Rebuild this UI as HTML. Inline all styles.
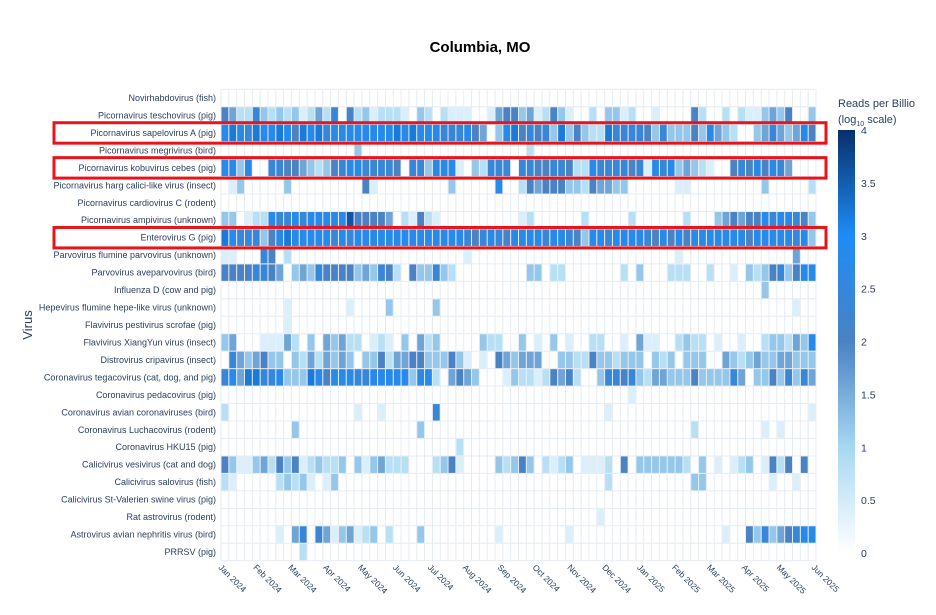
<!DOCTYPE html>
<html><head><meta charset="utf-8"><style>
body{margin:0;background:#fff;font-family:"Liberation Sans",Arial,sans-serif;}
svg text{font-family:"Liberation Sans",Arial,sans-serif;fill:#2a3f5f;}
</style></head><body>
<svg id="chart" width="936" height="610" viewBox="0 0 936 610" xmlns="http://www.w3.org/2000/svg">
<defs><linearGradient id="cbg" x1="0" y1="1" x2="0" y2="0">
<stop offset="0" stop-color="#ffffff"/><stop offset="0.25" stop-color="#a6d8f2"/><stop offset="0.5" stop-color="#4a82c4"/><stop offset="0.75" stop-color="#1e8cf5"/><stop offset="1" stop-color="#08306b"/></linearGradient></defs>
<text x="480" y="52" text-anchor="middle" font-size="15" font-weight="bold" style="fill:#000">Columbia, MO</text>
<text transform="translate(32,325) rotate(-90)" text-anchor="middle" font-size="13">Virus</text>
<g id="grid"></g>
<g id="cells"></g>
<g id="ylab"></g>
<g id="xlab"></g>
<g id="boxes"></g>
<g>
<text x="838" y="107" font-size="11">Reads per Billio</text>
<text x="838" y="123" font-size="11">(log<tspan font-size="7" dy="3">10</tspan><tspan dy="-3"> scale)</tspan></text>
<rect x="838" y="130" width="17" height="423" fill="url(#cbg)"/>
<g id="cbticks"></g>
</g>
</svg>
<script>
const viruses=["Novirhabdovirus (fish)","Picornavirus teschovirus (pig)","Picornavirus sapelovirus A (pig)","Picornavirus megrivirus (bird)","Picornavirus kobuvirus cebes (pig)","Picornavirus harg calici-like virus (insect)","Picornavirus cardiovirus C (rodent)","Picornavirus ampivirus (unknown)","Enterovirus G (pig)","Parvovirus flumine parvovirus (unknown)","Parvovirus aveparvovirus (bird)","Influenza D (cow and pig)","Hepevirus flumine hepe-like virus (unknown)","Flavivirus pestivirus scrofae (pig)","Flavivirus XiangYun virus (insect)","Distrovirus cripavirus (insect)","Coronavirus tegacovirus (cat, dog, and pig)","Coronavirus pedacovirus (pig)","Coronavirus avian coronaviruses (bird)","Coronavirus Luchacovirus (rodent)","Coronavirus HKU15 (pig)","Calicivirus vesivirus (cat and dog)","Calicivirus salovirus (fish)","Calicivirus St-Valerien swine virus (pig)","Rat astrovirus (rodent)","Astrovirus avian nephritis virus (bird)","PRRSV (pig)"];
const monthLabels=["Jan 2024","Feb 2024","Mar 2024","Apr 2024","May 2024","Jun 2024","Jul 2024","Aug 2024","Sep 2024","Oct 2024","Nov 2024","Dec 2024","Jan 2025","Feb 2025","Mar 2025","Apr 2025","May 2025","Jun 2025"];
const cbTicks=[0,0.5,1,1.5,2,2.5,3,3.5,4];
const highlighted=[2,4,8];
// weekly values encoded per digit: 0 = no data, d -> d*0.4 log10 reads
const rowCodes=[
"0",
"54226323231242605231222103202111001455"+"34125310020331200100005200202113435003",
"78768778758786777777778787776667540378"+"56563835322866665363335374320034643475",
"00000000000000000300000000000000000000"+"02000000000000000000000000000000000000",
"77370066554323567766665066377710326660"+"66556652276666561767343210056575764000",
"01300000300000000051000000000300000700"+"25455533254433000000110000000003000002",
"0",
"33012276676777779555540215210000000000"+"12000000200000200000020003454557677653",
"87666357877777676777777777777776567657"+"77767765377677776575757777777577777673",
"11000650200000000000000000000001000000"+"00000000000000000000100000000000000400",
"55556654034365555343652053363200000000"+"03302200000002030002220020010323563577",
"00000000000000000000000000000000000000"+"00000000000000000000000000000003000000",
"00000000100000001000030000030000000000"+"00000000000000000000000000000000000100",
"00000000100000000000000000000000000000",
"34000111420304342201210304230000032200"+"30103010022001041100232201001002332437",
"06434533032424343033524455333531010543"+"44400332253323330323033300432343344333",
"67488667333875777667777737720454300013"+"22125452003665632443335333364033536364",
"00000000000000000000000000000000000000"+"00000000000000100000000000000000000000",
"20000000000000000100100000060000000000"+"00000000000100000000000000000000000001",
"00000000030000000000000003000000000000"+"00000000000000000000002000000001010000",
"00000000000000000000000000000020000000",
"53113425351232230313422200023510000323"+"53021230111205033333320301012301525050",
"21000002323101300000000000000000000000"+"00000000000200000000003300000000100100",
"0",
"00000000000000000000000000000000000000"+"00000000001000000000000000000000000000",
"00000001046064134123020003000000000100"+"00000010000000000000000000100536345677",
"00000000002000000000000000000000000000"
];
const NCOL=76, x0=221, x1=816, yTop=89.3, yBot=560.7;
const R=viruses.length;
const rowH=(yBot-yTop)/R;
const colW=(x1-x0)/NCOL;
const xOf=c=>x0+c*colW;
const yOf=r=>yTop+r*rowH;
const cbY=v=>553-v*(423/4);
const stops=[[0,[255,255,255]],[1,[166,216,242]],[2,[74,130,196]],[3,[30,140,245]],[4,[8,48,107]]];
function color(v){for(let i=0;i<stops.length-1;i++){const[a,ca]=stops[i],[b,cb]=stops[i+1];if(v<=b){const t=(v-a)/(b-a);return`rgb(${ca.map((c,k)=>Math.round(c+(cb[k]-c)*t)).join(',')})`;}}return'rgb(8,48,107)';}
const NS="http://www.w3.org/2000/svg";
function mk(tag,attrs,parent){const e=document.createElementNS(NS,tag);for(const k in attrs)e.setAttribute(k,attrs[k]);parent.appendChild(e);return e;}
const grid=document.getElementById('grid'),cells=document.getElementById('cells'),ylab=document.getElementById('ylab'),xlab=document.getElementById('xlab'),boxes=document.getElementById('boxes'),cbt=document.getElementById('cbticks');
for(let c=0;c<=NCOL;c++){const l=mk('line',{x1:xOf(c),x2:xOf(c),y1:yTop,y2:yOf(R),stroke:'#e6ecf4','stroke-width':1},grid);

}
for(let r=0;r<=R;r++){const l=mk('line',{x1:x0,x2:x1,y1:yOf(r),y2:yOf(r),stroke:'#e6ecf4','stroke-width':1},grid);

}
viruses.forEach((name,r)=>{
 const t=mk('text',{x:x0-5,y:yOf(r)+rowH/2+3,'text-anchor':'end','font-size':'9'},ylab);t.textContent=name;
 
 
 const code=(rowCodes[r]||"0").padEnd(NCOL,'0');
 for(let c=0;c<NCOL;c++){const d=+code[c];if(!d)continue;const v=d*0.4;
  const rc=mk('rect',{x:xOf(c)+0.5,y:yOf(r)+0.5,width:colW-1,height:rowH-1,fill:color(v)},cells);
  
  }
});
monthLabels.forEach((m,i)=>{const x=222+i*(815-222)/17;
 const t=mk('text',{transform:`translate(${x-4},568) rotate(45)`,'font-size':'8.5'},xlab);t.textContent=m;
 
 });
highlighted.forEach(r=>{const b=mk('rect',{x:54,y:yOf(r)-1.5,width:772,height:rowH+3,fill:'none',stroke:'#e8141c','stroke-width':3},boxes);
 
 });
cbTicks.forEach(v=>{const t=mk('text',{x:861,y:cbY(v)+4,'font-size':'10.5'},cbt);t.textContent=String(v);
 
 });
</script>
</body></html>
